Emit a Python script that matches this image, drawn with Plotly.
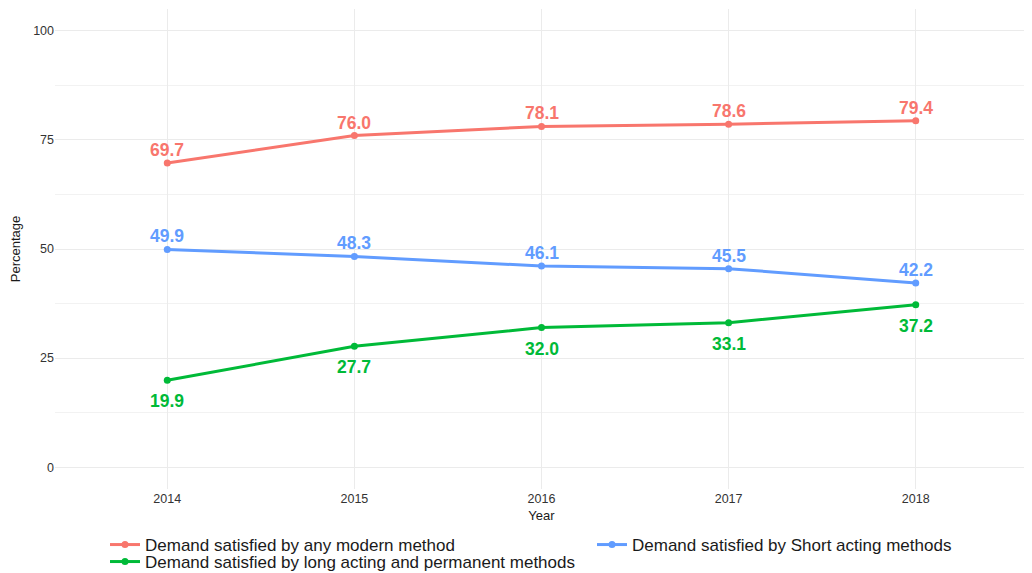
import plotly.graph_objects as go

years = [2014, 2015, 2016, 2017, 2018]
any_modern = [69.7, 76.0, 78.1, 78.6, 79.4]
short_acting = [49.9, 48.3, 46.1, 45.5, 42.2]
long_acting = [19.9, 27.7, 32.0, 33.1, 37.2]

series_names = [
    "Demand satisfied by any modern method",
    "Demand satisfied by Short acting methods",
    "Demand satisfied by long acting and permanent methods",
]
series_values = [any_modern, short_acting, long_acting]
series_colors = ["#F8766D", "#619CFF", "#00BA38"]
label_shift = [13, 13, -21]
legend_ids = ["legend", "legend2", "legend3"]

# the page body adds an 8px offset, so the figure is 8px smaller than the window
W, H = 1024, 565

fig = go.Figure()
annotations = []
for name, vals, col, shift, lg in zip(series_names, series_values, series_colors, label_shift, legend_ids):
    fig.add_trace(go.Scatter(
        x=years, y=vals, name=name, mode="lines+markers", legend=lg,
        line=dict(color=col, width=3), marker=dict(color=col, size=7),
    ))
    for xv, yv in zip(years, vals):
        annotations.append(dict(
            x=xv, y=yv, text=f"<b>{yv:.1f}</b>", showarrow=False,
            yshift=shift, font=dict(color=col, size=17.5, family="Liberation Sans, Arial"),
        ))

def legend_box(xpix, ypix):
    return dict(
        orientation="h", xref="container", x=xpix / W, xanchor="left",
        yref="container", y=1 - ypix / H, yanchor="middle",
        font=dict(size=17, color="#1a1a1a"), itemwidth=30,
        bgcolor="rgba(0,0,0,0)",
    )

fig.update_layout(
    width=W, height=H,
    margin=dict(l=47, r=4, t=1, b=84),
    plot_bgcolor="white", paper_bgcolor="white",
    font=dict(family="Liberation Sans, Arial", size=13, color="#333333"),
    annotations=annotations,
    showlegend=True,
    legend=legend_box(97, 537),
    legend2=legend_box(584, 537),
    legend3=legend_box(97, 554),
)
fig.update_xaxes(
    range=[2013.4, 2018.6], tickvals=years, ticktext=[str(y) for y in years],
    showgrid=True, gridcolor="#EBEBEB", gridwidth=1, zeroline=False, showline=False,
    ticks="", title=dict(text="Year", standoff=6, font=dict(size=13, color="#1a1a1a")),
    tickfont=dict(size=12.5, color="#333333"),
)
fig.update_yaxes(
    range=[-5, 105], tickvals=[0, 25, 50, 75, 100],
    showgrid=True, gridcolor="#EBEBEB", gridwidth=1, zeroline=False, showline=False,
    minor=dict(tickvals=[12.5, 37.5, 62.5, 87.5], showgrid=True, gridcolor="#F2F2F2", gridwidth=0.6),
    ticks="", title=dict(text="Percentage", standoff=10, font=dict(size=13, color="#1a1a1a")),
    tickfont=dict(size=12.5, color="#333333"),
)

fig.write_html("out.html")
